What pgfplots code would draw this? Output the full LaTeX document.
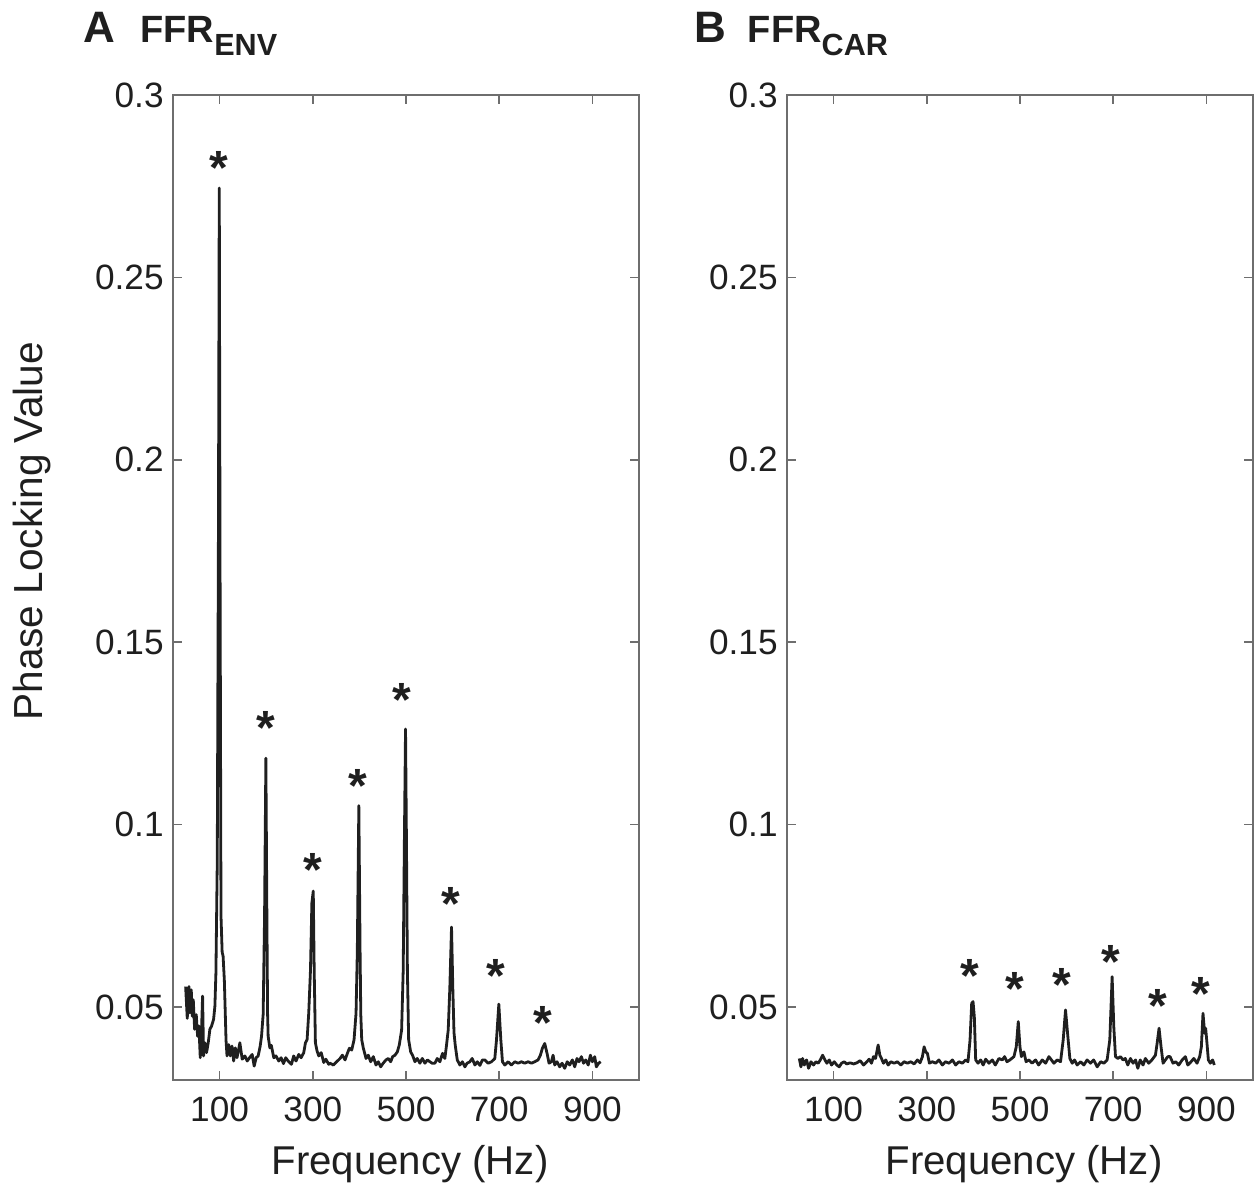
\documentclass[border=0pt]{standalone}
\usepackage{fontspec}
\setmainfont{Liberation Sans}
\usepackage{pgfplots}
\pgfplotsset{compat=1.18}
\usepackage{pgfplotstable}

\definecolor{ink}{HTML}{1F1F1F}
\definecolor{framec}{HTML}{6E6E6E}

\pgfplotstableread{
f v
27.1 0.0556
30.6 0.0469
34.2 0.0556
36.4 0.0484
39.2 0.0547
41.4 0.0475
43.5 0.0520
46.4 0.0439
49.9 0.0479
52.8 0.0420
55.6 0.0448
58.5 0.0361
61.3 0.0439
63.5 0.0530
65.6 0.0366
68.5 0.0402
72.0 0.0375
75.6 0.0402
79.2 0.0439
82.8 0.0448
87.1 0.0466
89.9 0.0502
92.1 0.0593
95.0 0.0900
97.5 0.1800
99.3 0.2745
101.0 0.1700
103.0 0.0750
105.5 0.0650
107.5 0.0640
110.2 0.0573
113.8 0.0409
115.9 0.0366
119.5 0.0397
123.0 0.0366
126.6 0.0393
130.2 0.0352
133.8 0.0388
137.3 0.0361
140.9 0.0384
143.5 0.0402
148.5 0.0357
154.2 0.0366
159.2 0.0352
164.2 0.0361
169.9 0.0370
174.2 0.0338
178.5 0.0361
182.8 0.0366
187.1 0.0393
190.0 0.0420
193.5 0.0480
196.5 0.0750
199.3 0.1182
201.5 0.0750
203.0 0.0480
204.2 0.0420
207.8 0.0388
211.0 0.0395
216.3 0.0361
221.0 0.0366
227.0 0.0352
232.0 0.0361
237.0 0.0345
242.0 0.0361
247.0 0.0352
254.2 0.0343
259.0 0.0366
264.0 0.0352
269.9 0.0370
275.0 0.0361
280.6 0.0375
284.2 0.0402
287.8 0.0411
291.3 0.0484
295.0 0.0600
298.0 0.0785
301.0 0.0818
303.0 0.0600
305.6 0.0402
309.0 0.0380
312.7 0.0366
318.0 0.0375
323.5 0.0348
328.0 0.0357
334.2 0.0343
337.0 0.0346
344.2 0.0341
351.3 0.0350
358.5 0.0359
363.5 0.0368
369.2 0.0355
374.2 0.0373
378.5 0.0387
383.5 0.0382
388.5 0.0410
392.8 0.0483
395.5 0.0650
398.8 0.1052
401.5 0.0650
403.0 0.0480
405.0 0.0410
408.5 0.0387
414.3 0.0359
419.0 0.0368
424.2 0.0350
429.9 0.0364
435.6 0.0341
440.6 0.0350
445.7 0.0336
451.0 0.0346
457.1 0.0355
462.1 0.0359
467.1 0.0350
471.4 0.0364
476.4 0.0368
481.4 0.0377
485.6 0.0396
490.6 0.0437
494.0 0.0600
496.5 0.0950
499.0 0.1262
501.0 0.0950
503.0 0.0600
505.7 0.0410
510.0 0.0377
514.0 0.0368
519.2 0.0350
524.0 0.0359
529.9 0.0346
535.0 0.0359
540.6 0.0346
546.0 0.0355
551.3 0.0350
556.0 0.0346
562.0 0.0346
567.0 0.0359
572.7 0.0350
578.4 0.0373
583.4 0.0359
587.0 0.0396
590.6 0.0437
594.0 0.0550
597.7 0.0719
600.5 0.0550
603.0 0.0430
605.6 0.0396
610.0 0.0355
615.6 0.0341
621.0 0.0350
626.4 0.0336
631.0 0.0346
637.1 0.0350
642.0 0.0359
647.9 0.0341
653.0 0.0350
658.6 0.0340
664.0 0.0355
669.2 0.0355
676.3 0.0346
683.5 0.0350
690.6 0.0359
694.2 0.0410
699.2 0.0508
703.5 0.0410
707.0 0.0350
712.0 0.0341
719.2 0.0350
726.3 0.0341
733.4 0.0350
740.6 0.0346
747.7 0.0350
754.8 0.0346
762.0 0.0350
769.1 0.0346
776.2 0.0350
783.4 0.0355
788.4 0.0368
792.7 0.0387
797.7 0.0400
802.7 0.0373
807.0 0.0346
812.0 0.0350
815.6 0.0368
819.2 0.0341
824.0 0.0350
829.9 0.0336
835.0 0.0346
840.6 0.0332
846.0 0.0350
851.3 0.0341
857.0 0.0355
862.0 0.0336
867.0 0.0359
871.4 0.0350
876.4 0.0364
881.0 0.0346
885.7 0.0355
891.0 0.0341
895.7 0.0368
900.0 0.0350
905.0 0.0364
908.5 0.0336
913.5 0.0346
917.8 0.0350
}\dataA

\pgfplotstableread{
f v
26.4 0.0359
29.9 0.0336
33.5 0.0359
37.1 0.0341
42.0 0.0355
46.4 0.0332
51.4 0.0350
57.0 0.0341
62.0 0.0350
67.0 0.0346
71.4 0.0355
76.4 0.0368
81.4 0.0355
85.6 0.0346
90.6 0.0355
95.6 0.0341
101.3 0.0350
107.0 0.0341
112.1 0.0336
117.1 0.0346
122.8 0.0350
128.0 0.0344
135.6 0.0347
142.8 0.0344
149.9 0.0347
157.0 0.0353
164.2 0.0341
171.3 0.0350
176.4 0.0357
181.3 0.0346
185.6 0.0364
190.0 0.0359
195.6 0.0396
199.2 0.0368
202.8 0.0359
207.0 0.0346
212.0 0.0355
217.0 0.0341
222.8 0.0350
229.9 0.0346
237.0 0.0350
244.2 0.0341
251.3 0.0350
258.5 0.0346
265.6 0.0350
272.8 0.0344
279.9 0.0355
285.6 0.0347
290.6 0.0364
294.2 0.0391
297.7 0.0377
301.3 0.0373
305.6 0.0346
312.0 0.0350
319.2 0.0346
326.0 0.0355
333.4 0.0341
340.0 0.0350
347.7 0.0346
355.0 0.0355
362.0 0.0341
369.0 0.0350
376.2 0.0346
383.4 0.0355
388.4 0.0350
392.8 0.0410
396.3 0.0510
399.2 0.0515
402.0 0.0473
404.9 0.0355
409.9 0.0346
415.6 0.0355
421.0 0.0341
426.3 0.0357
433.4 0.0346
440.6 0.0355
447.0 0.0341
454.8 0.0359
462.0 0.0355
467.0 0.0364
472.0 0.0350
478.4 0.0355
487.0 0.0364
492.0 0.0391
496.3 0.0460
499.9 0.0391
503.0 0.0364
508.5 0.0377
513.0 0.0350
519.2 0.0355
526.0 0.0346
533.4 0.0355
540.0 0.0341
547.7 0.0355
555.0 0.0346
562.0 0.0364
565.0 0.0359
572.7 0.0346
580.0 0.0355
587.0 0.0350
592.7 0.0410
597.7 0.0492
602.7 0.0419
607.0 0.0359
612.0 0.0346
617.0 0.0355
622.7 0.0341
630.0 0.0350
637.0 0.0341
644.0 0.0355
651.3 0.0346
658.0 0.0355
665.6 0.0336
673.0 0.0350
679.9 0.0346
687.0 0.0355
692.7 0.0410
697.7 0.0583
701.3 0.0446
704.9 0.0364
710.0 0.0359
715.6 0.0364
721.0 0.0355
726.0 0.0359
731.3 0.0341
737.0 0.0359
742.7 0.0346
748.0 0.0355
752.8 0.0332
758.0 0.0355
764.0 0.0341
769.1 0.0359
776.2 0.0346
783.0 0.0355
790.6 0.0368
794.2 0.0400
798.4 0.0442
802.7 0.0391
807.0 0.0346
812.0 0.0355
817.1 0.0364
822.0 0.0364
828.4 0.0346
834.0 0.0350
840.6 0.0341
848.0 0.0355
854.9 0.0364
860.0 0.0341
867.0 0.0350
873.0 0.0359
879.9 0.0346
885.6 0.0364
889.2 0.0391
892.7 0.0483
896.3 0.0428
898.4 0.0442
901.3 0.0400
904.2 0.0355
908.4 0.0346
913.4 0.0355
917.0 0.0341
}\dataB

\pgfplotstableread{
f v
98.6 0.2831
199.3 0.1294
299.1 0.0905
397.7 0.1136
490.7 0.1371
596.3 0.0812
692.7 0.0615
792.8 0.0487
}\starsA

\pgfplotstableread{
f v
392.0 0.0615
489.0 0.0579
590.6 0.0590
695.6 0.0652
796.0 0.0533
887.0 0.0565
}\starsB

\pgfplotsset{
  ffr/.style={
    scale only axis, width=233pt, height=492.5pt,
    xmin=0, xmax=1000, ymin=0.03, ymax=0.3,
    xtick={100,300,500,700,900}, xticklabels={100,300,500,700,900},
    ytick={0.05,0.1,0.15,0.2,0.25,0.3},
    yticklabels={0.05,0.1,0.15,0.2,0.25,0.3},
    tick pos=both, tick align=inside, major tick length=4.5pt,
    axis line style={framec, line width=0.75pt},
    major tick style={framec, line width=0.75pt},
    /pgf/number format/assume math mode=true,
    tick label style={font=\fontsize{17.6}{17.6}\selectfont, text=ink, inner sep=0pt},
    xticklabel style={anchor=base, yshift=-21pt},
    yticklabel style={anchor=east, xshift=-4.5pt},
    xlabel={Frequency (Hz)},
    xlabel style={at={(axis description cs:0.5086,0)}, anchor=base, yshift=-47.5pt,
      font=\fontsize{20.1}{20.1}\selectfont, text=ink, inner sep=0pt},
  },
  curve/.style={ink, line width=1.4pt, line join=round},
  stars/.style={draw=none, mark=none, nodes near coords={*},
    nodes near coords style={anchor=base, yshift=-13.7pt, inner sep=0pt,
      font=\fontsize{24}{24}\selectfont\bfseries, text=ink}},
}

\begin{document}
\begin{tikzpicture}
\path[use as bounding box] (-86.5pt,-53pt) rectangle (543pt,540pt);

\begin{axis}[ffr, at={(0pt,0pt)}, anchor=south west,
  ylabel={Phase Locking Value},
  ylabel style={at={(axis description cs:-0.3026,0.557)}, anchor=center,
    font=\fontsize{20.3}{20.3}\selectfont, text=ink, inner sep=0pt}]
\addplot[curve] table[x=f, y=v] {\dataA};
\addplot[stars] table[x=f, y=v] {\starsA};
\end{axis}

\begin{axis}[ffr, at={(307pt,0pt)}, anchor=south west]
\addplot[curve] table[x=f, y=v] {\dataB};
\addplot[stars] table[x=f, y=v] {\starsB};
\end{axis}

\node[anchor=base west, inner sep=0pt, text=ink, font=\fontsize{22}{22}\selectfont\bfseries] at (-45pt,518.5pt) {A};
\node[anchor=base west, inner sep=0pt, text=ink, font=\fontsize{19}{19}\selectfont\bfseries] at (-16.5pt,518.5pt) {FFR\raisebox{-6.5pt}{\fontsize{15.3}{15.3}\selectfont ENV}};
\node[anchor=base west, inner sep=0pt, text=ink, font=\fontsize{22}{22}\selectfont\bfseries] at (260.7pt,518.5pt) {B};
\node[anchor=base west, inner sep=0pt, text=ink, font=\fontsize{19}{19}\selectfont\bfseries] at (287.2pt,518.5pt) {FFR\raisebox{-6.5pt}{\fontsize{15.3}{15.3}\selectfont CAR}};
\end{tikzpicture}
\end{document}
